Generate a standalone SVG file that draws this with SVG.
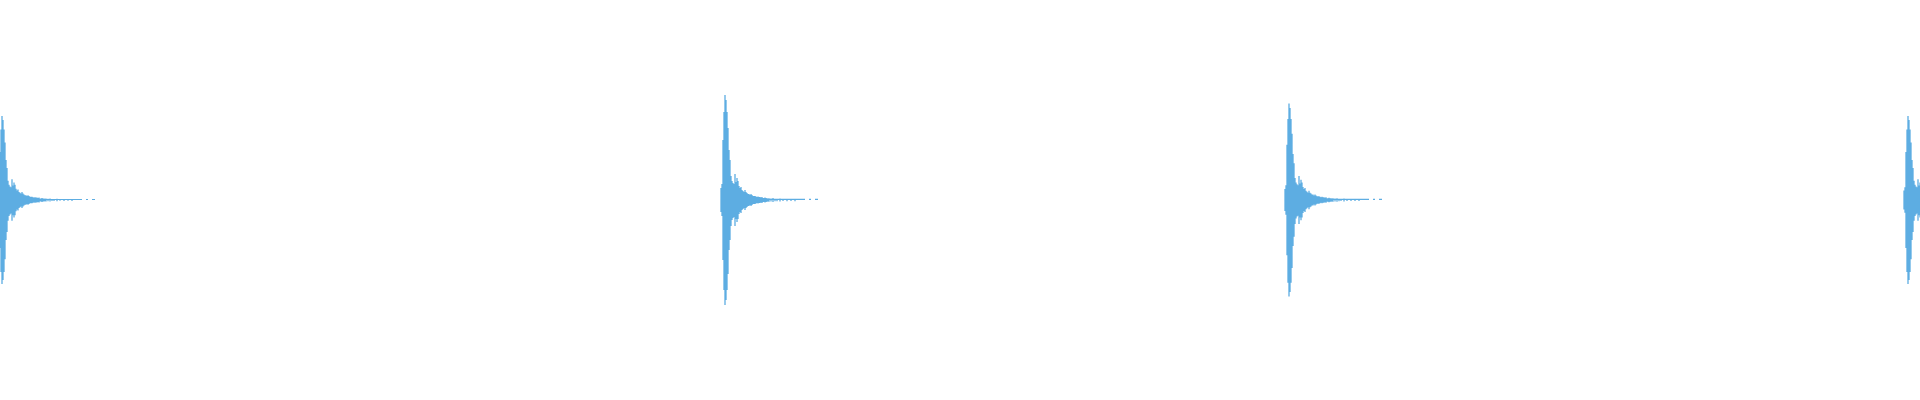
<svg xmlns="http://www.w3.org/2000/svg" width="1920" height="400" viewBox="0 0 1920 400">
<defs>
<style>.w{stroke:#5dade2;stroke-width:1.3;fill:none}</style>
<path id="wave" class="w" d="M-4,-12V12M-3,-16V16M-2,-60V60M-1,-88V90M0,-105V105M1,-100V100M2,-88V90M3,-72V74M4,-50V50M5,-40V40M6,-24V26M7,-19V20M8,-17V18M9,-16V17M10,-26V26M11,-18V19M12,-22V22M13,-19V19M14,-14V14M15,-12V12M16,-13V13M17,-10V10M18,-9V9M19,-8V8M20,-10V10M21,-8V8M22,-7V7M23,-6V6M24,-6V6M25,-5V5M26,-6V6M27,-5V5M28,-4V4M29,-4V4M30,-4V4M31,-3.5V3.5M32,-3V3M33,-3.5V3.5M34,-3V3M35,-3V3M36,-2.5V2.5M37,-3V3M38,-2V2M39,-2V2M40,-2.5V2.5M41,-2V2M42,-1.8V1.8M43,-1.5V1.5M44,-1.8V1.8M46,-1.5V1.5M48,-2V2M50,-1.3V1.3M52,-1.2V1.2M55,-1.5V1.5M58,-1V1M62,-1.2V1.2M66,-1V1M70,-1.2V1.2M0,-0.7H80M84,-0.7H86M90,-0.7H93"/>
</defs>
<g transform="translate(2,200) scale(1,0.8)"><use href="#wave"/></g>
<g transform="translate(725,200)"><use href="#wave"/></g>
<g transform="translate(1289,200) scale(1,0.92)"><use href="#wave"/></g>
<g transform="translate(1908,200) scale(1,0.8)"><use href="#wave"/></g>
</svg>
